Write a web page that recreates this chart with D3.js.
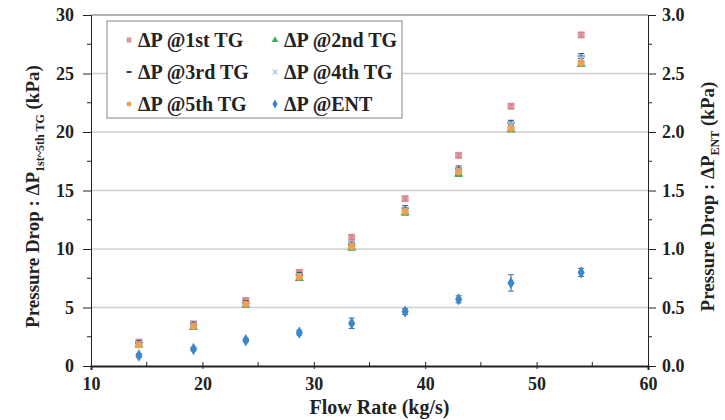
<!DOCTYPE html>
<html lang="en">
<head>
<meta charset="UTF-8">
<title>Pressure drop</title>
<style>
  body { margin: 0; background: #fff; }
  svg { font-family: "Liberation Serif", "Times New Roman", serif; font-weight: bold; }
  .grid line { stroke: #d0d0d0; stroke-width: 1.5; }
  .axis path, .axis line { stroke: #222; }
  .axis text { font-size: 18px; font-weight: bold; fill: #222; font-family: "Liberation Serif", serif; }
</style>
<script src="https://cdn.jsdelivr.net/npm/d3@7"></script>
</head>
<body>
<div id="chart"></div>
<script>
// flow rate (kg/s)
var flow = [14.3, 19.2, 23.9, 28.7, 33.4, 38.2, 43.0, 47.7, 54.0];
// pressure drop at each test grid (kPa)
var tg1 = [2.05, 3.6, 5.6, 8.0, 11.0, 14.3, 18.0, 22.2, 28.3];
var tg2 = [1.8, 3.3, 5.2, 7.5, 10.1, 13.1, 16.4, 20.2, 25.8];
var tg3 = [2.0, 3.6, 5.4, 7.8, 10.4, 13.5, 16.9, 20.8, 26.5];
var tg4 = [1.9, 3.5, 5.3, 7.7, 10.3, 13.3, 16.7, 20.6, 26.3];
var tg5 = [1.8, 3.4, 5.3, 7.6, 10.2, 13.2, 16.6, 20.3, 25.9];
// entrance pressure drop (kPa, right axis)
var ent = [0.09, 0.145, 0.22, 0.285, 0.365, 0.465, 0.57, 0.71, 0.80];
var entErr = [0.015, 0.015, 0.015, 0.02, 0.045, 0.025, 0.03, 0.07, 0.035];
var tgErr = [0.15, 0.15, 0.2, 0.2, 0.2, 0.2, 0.2, 0.2, 0.2];

var xTicks = [10, 20, 30, 40, 50, 60];
var yTicks = [0, 5, 10, 15, 20, 25, 30];
var y2Ticks = [0, 0.5, 1.0, 1.5, 2.0, 2.5, 3.0];

var W = 725, H = 420;
var margin = { top: 15, right: 77, bottom: 54, left: 91 };
var width = W - margin.left - margin.right,
    height = H - margin.top - margin.bottom;

var svg = d3.select("#chart").append("svg")
    .attr("width", W).attr("height", H);
var g = svg.append("g")
    .attr("transform", "translate(" + margin.left + "," + margin.top + ")");

var x = d3.scaleLinear().domain([10, 60]).range([0, width]);
var y = d3.scaleLinear().domain([0, 30]).range([height, 0]);
var y2 = d3.scaleLinear().domain([0, 3]).range([height, 0]);

// gridlines
g.append("g").attr("class", "grid")
  .selectAll("line").data(yTicks.slice(1, -1)).enter().append("line")
  .attr("x1", 0).attr("x2", width)
  .attr("y1", function (d) { return y(d); }).attr("y2", function (d) { return y(d); });
// top border
g.append("line").attr("x1", 0).attr("x2", width).attr("y1", 0).attr("y2", 0)
  .attr("stroke", "#999").attr("stroke-width", 1.5);

// minor ticks
function minor(sel, vals, fn) {
  sel.selectAll("line.m").data(vals).enter().append("line").attr("class", "m").each(fn);
}
var minorY = [2.5, 7.5, 12.5, 17.5, 22.5, 27.5];
var mg = g.append("g").attr("stroke", "#222");
minor(mg, minorY, function (d) {
  d3.select(this).attr("x1", -4).attr("x2", 0).attr("y1", y(d)).attr("y2", y(d));
});
minor(mg.append("g"), minorY, function (d) {
  d3.select(this).attr("x1", width).attr("x2", width + 4).attr("y1", y(d)).attr("y2", y(d));
});
minor(mg.append("g"), [15, 25, 35, 45, 55], function (d) {
  d3.select(this).attr("x1", x(d)).attr("x2", x(d)).attr("y1", height).attr("y2", height - 4);
});

var xAxis = g.append("g").attr("class", "axis")
  .attr("transform", "translate(0," + height + ")")
  .call(d3.axisBottom(x).tickValues(xTicks).tickSize(4).tickPadding(7));
xAxis.selectAll(".tick line").attr("y1", -4).attr("y2", 3);
xAxis.select(".domain").attr("stroke", "#888").attr("stroke-width", 2);

var yAxis = g.append("g").attr("class", "axis")
  .call(d3.axisLeft(y).tickValues(yTicks).tickSize(8).tickPadding(9));
yAxis.select(".domain").attr("stroke-width", 1);

var y2Axis = g.append("g").attr("class", "axis")
  .attr("transform", "translate(" + width + ",0)")
  .call(d3.axisRight(y2).tickValues(y2Ticks).tickFormat(d3.format(".1f")).tickSize(8).tickPadding(6));
y2Axis.select(".domain").attr("stroke", "#888");

// axis titles
svg.append("text")
  .attr("x", margin.left + width / 2 + 10).attr("y", 414)
  .attr("text-anchor", "middle").attr("font-size", 20).attr("fill", "#222")
  .text("Flow Rate (kg/s)");

var lt = svg.append("text")
  .attr("transform", "translate(39," + (margin.top + height / 2 + 6) + ") rotate(-90)")
  .attr("text-anchor", "middle").attr("font-size", 19).attr("fill", "#222");
lt.append("tspan").text("Pressure Drop : ΔP");
lt.append("tspan").attr("font-size", 12).attr("dy", 5).text("1st~5th TG");
lt.append("tspan").attr("dy", -5).text(" (kPa)");

var rt = svg.append("text")
  .attr("transform", "translate(714," + (margin.top + height / 2 + 6) + ") rotate(-90)")
  .attr("text-anchor", "middle").attr("font-size", 19).attr("fill", "#222");
rt.append("tspan").text("Pressure Drop : ΔP");
rt.append("tspan").attr("font-size", 12).attr("dy", 5).text("ENT");
rt.append("tspan").attr("dy", -5).text(" (kPa)");

// series
var series = [
  { name: "ΔP @1st TG", vals: tg1, err: tgErr, scale: y, color: "#d98a93", ecol: "#b04050", shape: "square" },
  { name: "ΔP @2nd TG", vals: tg2, err: tgErr, scale: y, color: "#3dae5e", ecol: "#3dae5e", shape: "triangle" },
  { name: "ΔP @3rd TG", vals: tg3, err: tgErr, scale: y, color: "#3b3b70", ecol: "#3b3b70", shape: "dash" },
  { name: "ΔP @4th TG", vals: tg4, err: tgErr, scale: y, color: "#8ec8e0", ecol: "#8ec8e0", shape: "cross" },
  { name: "ΔP @5th TG", vals: tg5, err: tgErr, scale: y, color: "#f0a050", ecol: "#c07030", shape: "circle" },
  { name: "ΔP @ENT", vals: ent, err: entErr, scale: y2, color: "#3b87c8", ecol: "#3b6fa0", shape: "diamond" }
];

function drawMarker(sel, shape, color, s) {
  if (shape === "square") {
    sel.append("rect").attr("x", -s).attr("y", -s).attr("width", 2 * s).attr("height", 2 * s)
      .attr("fill", color).attr("opacity", 0.85);
  } else if (shape === "triangle") {
    sel.append("path").attr("d", d3.symbol().type(d3.symbolTriangle).size(s * s * 3))
      .attr("fill", color);
  } else if (shape === "dash") {
    sel.append("rect").attr("x", -s).attr("y", -1).attr("width", 2 * s).attr("height", 2)
      .attr("fill", color);
  } else if (shape === "cross") {
    sel.append("path").attr("d", d3.symbol().type(d3.symbolX).size(s * s * 2.5))
      .attr("stroke", color).attr("stroke-width", 1.2).attr("fill", "none");
  } else if (shape === "circle") {
    sel.append("circle").attr("r", s).attr("fill", color);
  } else {
    sel.append("path").attr("d", d3.symbol().type(d3.symbolDiamond).size(s * s * 3.6))
      .attr("fill", color);
  }
}

series.forEach(function (sr) {
  var sg = g.append("g");
  var pts = sr.vals.map(function (v, i) { return { x: flow[i], v: v, e: sr.err[i] }; });
  var eb = sg.selectAll("g.eb").data(pts).enter().append("g")
    .attr("stroke", sr.ecol).attr("stroke-width", 1);
  eb.append("line")
    .attr("x1", function (d) { return x(d.x); }).attr("x2", function (d) { return x(d.x); })
    .attr("y1", function (d) { return sr.scale(d.v - d.e); })
    .attr("y2", function (d) { return sr.scale(d.v + d.e); });
  [-1, 1].forEach(function (k) {
    eb.append("line")
      .attr("x1", function (d) { return x(d.x) - 3; }).attr("x2", function (d) { return x(d.x) + 3; })
      .attr("y1", function (d) { return sr.scale(d.v + k * d.e); })
      .attr("y2", function (d) { return sr.scale(d.v + k * d.e); });
  });
  sg.selectAll("g.pt").data(pts).enter().append("g")
    .attr("transform", function (d) { return "translate(" + x(d.x) + "," + sr.scale(d.v) + ")"; })
    .each(function () { drawMarker(d3.select(this), sr.shape, sr.color, 3.5); });
});

// legend
var leg = g.append("g").attr("transform", "translate(16,6)");
leg.append("rect").attr("width", 295).attr("height", 97)
  .attr("fill", "#fff").attr("stroke", "#999").attr("stroke-width", 1.2);
series.forEach(function (sr, i) {
  var col = i % 2, row = Math.floor(i / 2);
  var it = leg.append("g").attr("transform", "translate(" + (22 + col * 146) + "," + (19 + row * 32) + ")");
  drawMarker(it, sr.shape, sr.color, 2.5);
  it.append("text").attr("x", 9).attr("y", 7).attr("font-size", 20).attr("fill", "#222")
    .text(sr.name);
});
</script>
</body>
</html>
